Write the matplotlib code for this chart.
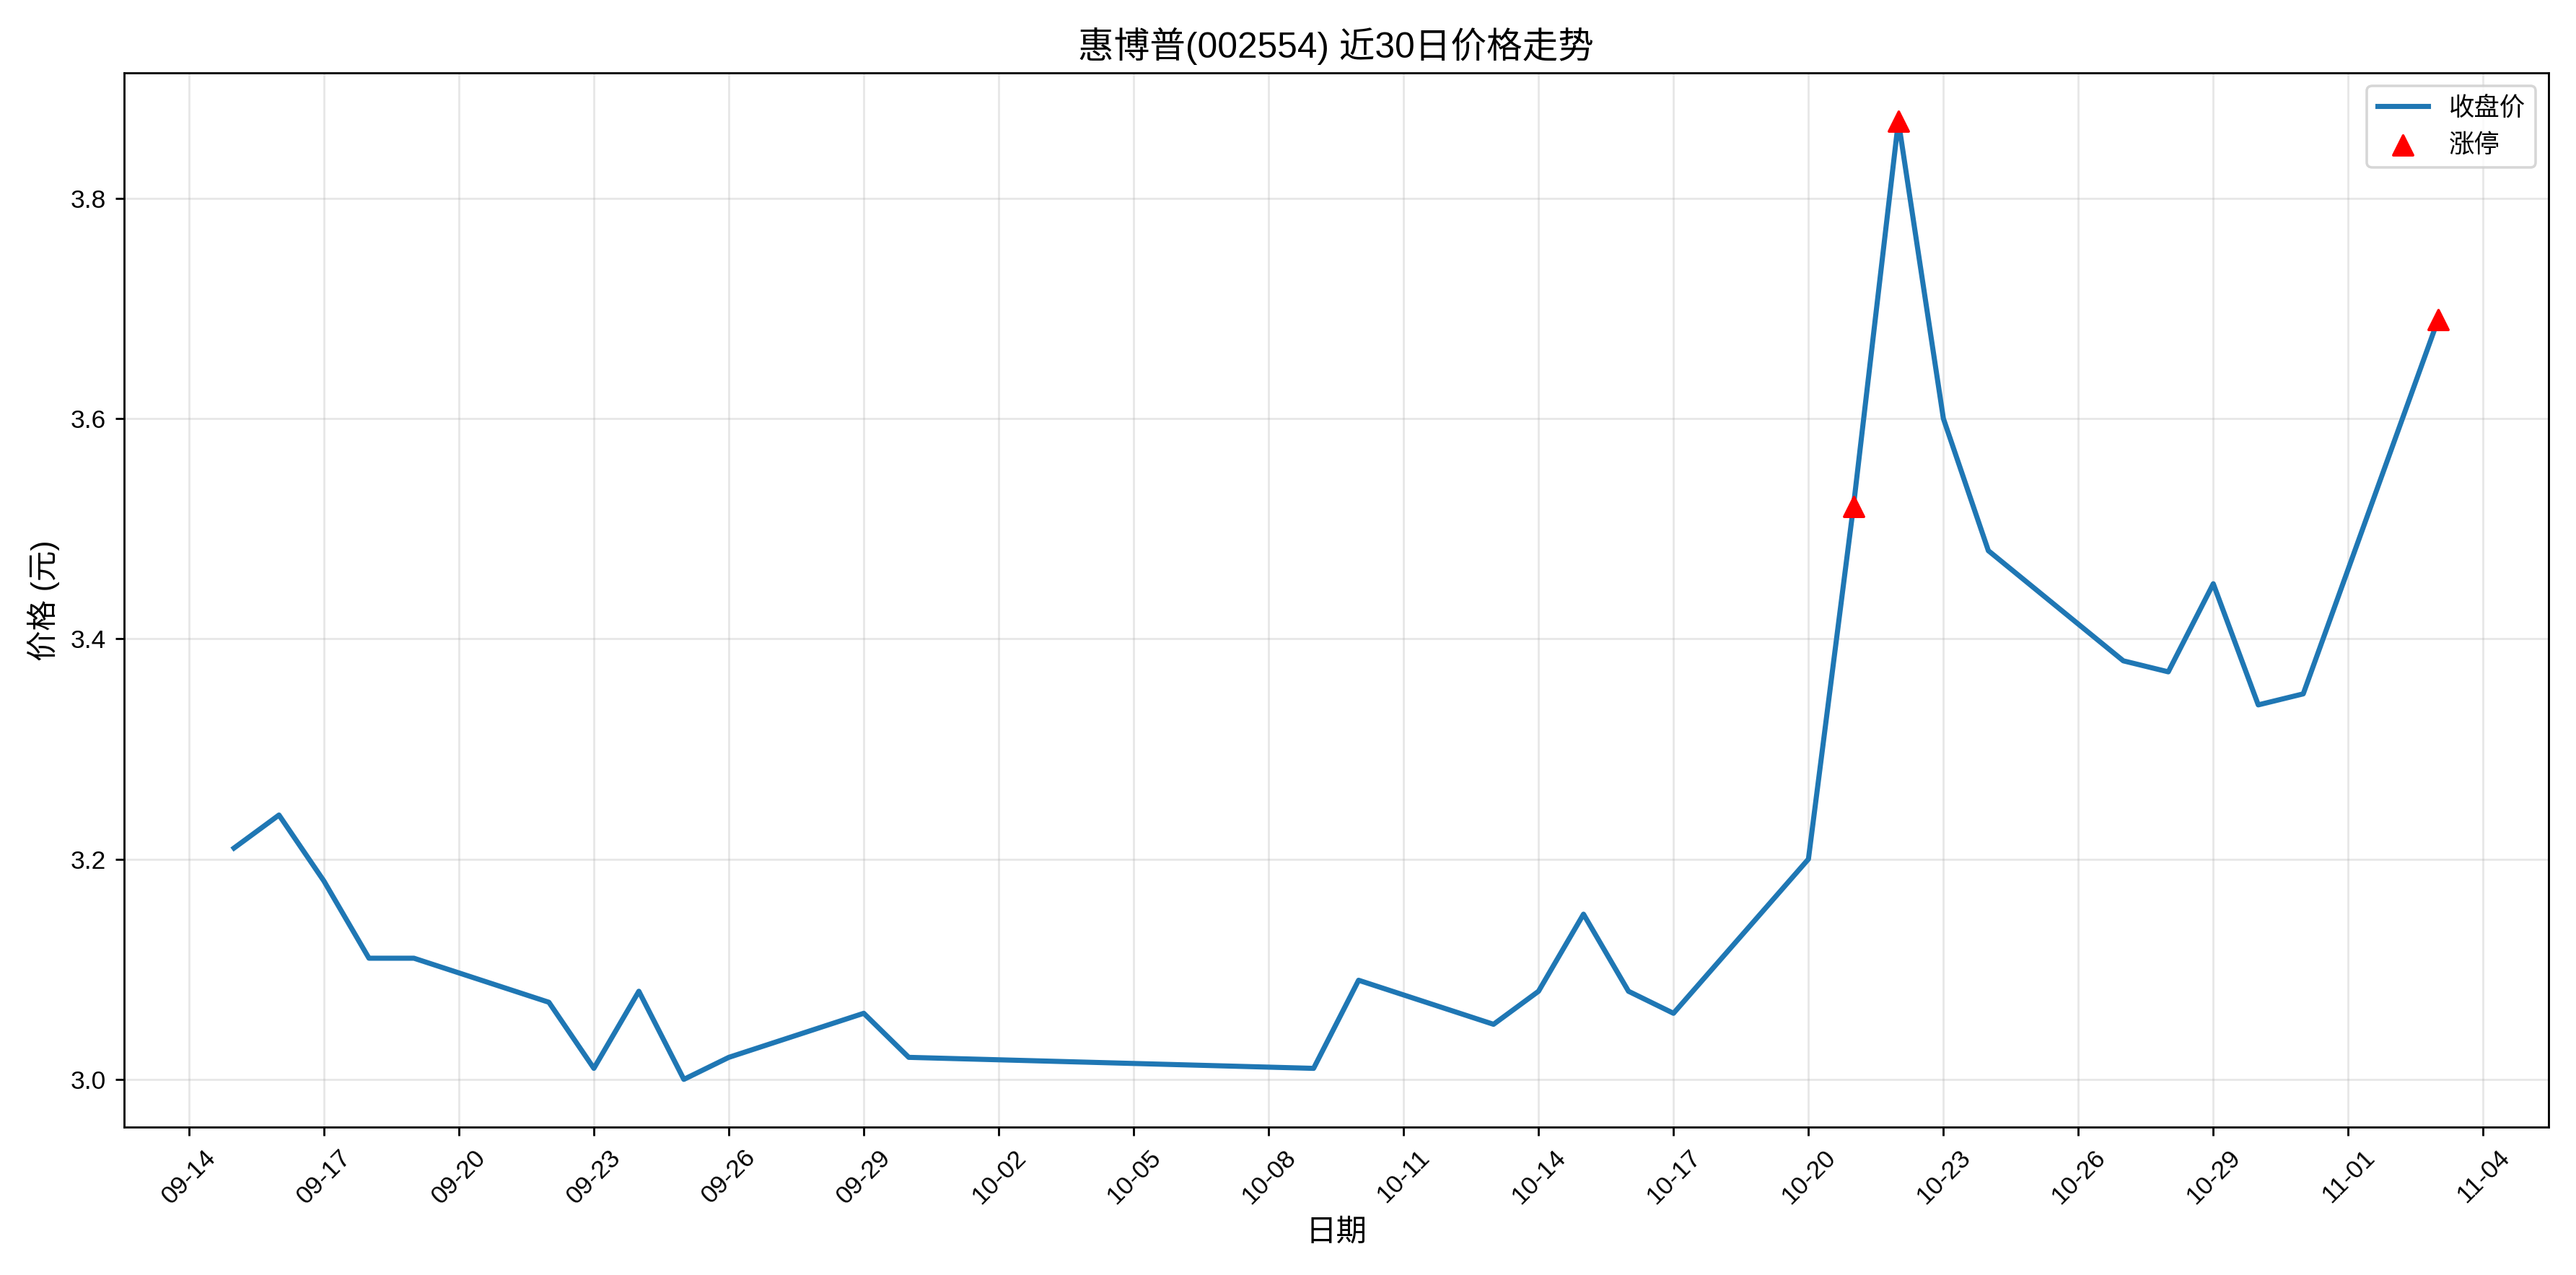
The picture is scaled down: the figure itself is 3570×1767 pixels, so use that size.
import pandas as pd
import matplotlib
matplotlib.use('Agg')
import matplotlib.pyplot as plt
import matplotlib.dates as mdates

plt.rcParams['font.family'] = ['Liberation Sans', 'Noto Sans CJK SC', 'DejaVu Sans']
plt.rcParams['axes.unicode_minus'] = False

dates = ['09-15', '09-16', '09-17', '09-18', '09-19', '09-22', '09-23', '09-24', '09-25', '09-26',
         '09-29', '09-30', '10-09', '10-10', '10-13', '10-14', '10-15', '10-16', '10-17', '10-20',
         '10-21', '10-22', '10-23', '10-24', '10-27', '10-28', '10-29', '10-30', '10-31', '11-03']
close = [3.21, 3.24, 3.18, 3.11, 3.11, 3.07, 3.01, 3.08, 3.00, 3.02,
         3.06, 3.02, 3.01, 3.09, 3.05, 3.08, 3.15, 3.08, 3.06, 3.20,
         3.52, 3.87, 3.60, 3.48, 3.38, 3.37, 3.45, 3.34, 3.35, 3.69]
limit_up_dates = ['10-21', '10-22', '11-03']

x = pd.to_datetime(['2025-' + d for d in dates])
df = pd.DataFrame({'close': close}, index=x)
lu = df.loc[pd.to_datetime(['2025-' + d for d in limit_up_dates])]

fig, ax = plt.subplots(figsize=(14, 6.93), dpi=255)
ax.plot(df.index, df['close'], color='#1f77b4', linewidth=2, label='收盘价')
ax.scatter(lu.index, lu['close'], color='red', marker='^', s=60, zorder=5, label='涨停')
ax.set_title('惠博普(002554) 近30日价格走势', fontsize=14)
ax.set_xlabel('日期', fontsize=12)
ax.set_ylabel('价格 (元)', fontsize=12)
ax.set_xticks(pd.date_range('2025-09-14', periods=18, freq='3D'))
ax.xaxis.set_major_formatter(mdates.DateFormatter('%m-%d'))
plt.setp(ax.get_xticklabels(), rotation=45)
ax.grid(True, alpha=0.3)
ax.legend(loc='upper right')
plt.tight_layout()
plt.savefig('out.png')
